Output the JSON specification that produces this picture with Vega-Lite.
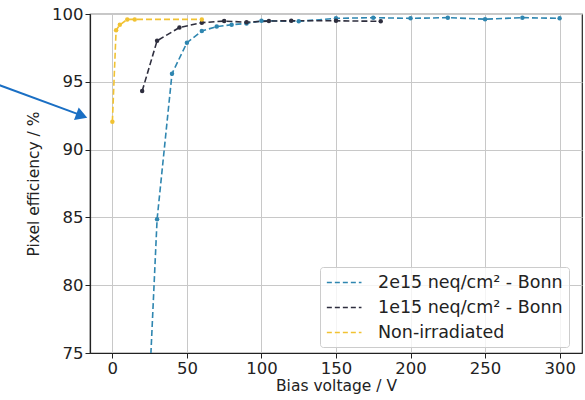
{
  "$schema": "https://vega.github.io/schema/vega-lite/v6.json",
  "width": 492,
  "height": 339,
  "autosize": "none",
  "padding": {"left": 90, "top": 14, "right": 3, "bottom": 47},
  "background": "white",
  "config": {
    "font": "DejaVu Sans",
    "view": {"stroke": "#222", "strokeWidth": 1.2},
    "axis": {
      "domainColor": "#222", "domainWidth": 1.2,
      "tickColor": "#222", "tickSize": 5,
      "gridColor": "#c8c8c8", "gridWidth": 1,
      "labelFontSize": 16.5, "labelColor": "#222",
      "titleFontSize": 15.5, "titleFontWeight": "normal", "titleColor": "#222"
    }
  },
  "datasets": {
    "series": [
      {"series": "2e15 neq/cm² - Bonn", "voltage": 20, "eff": 61},
      {"series": "2e15 neq/cm² - Bonn", "voltage": 30, "eff": 84.86},
      {"series": "2e15 neq/cm² - Bonn", "voltage": 40, "eff": 95.6},
      {"series": "2e15 neq/cm² - Bonn", "voltage": 50, "eff": 97.88},
      {"series": "2e15 neq/cm² - Bonn", "voltage": 60, "eff": 98.75},
      {"series": "2e15 neq/cm² - Bonn", "voltage": 70, "eff": 99.07},
      {"series": "2e15 neq/cm² - Bonn", "voltage": 80, "eff": 99.21},
      {"series": "2e15 neq/cm² - Bonn", "voltage": 90, "eff": 99.3},
      {"series": "2e15 neq/cm² - Bonn", "voltage": 100, "eff": 99.5},
      {"series": "2e15 neq/cm² - Bonn", "voltage": 125, "eff": 99.46},
      {"series": "2e15 neq/cm² - Bonn", "voltage": 150, "eff": 99.68},
      {"series": "2e15 neq/cm² - Bonn", "voltage": 175, "eff": 99.73},
      {"series": "2e15 neq/cm² - Bonn", "voltage": 200, "eff": 99.68},
      {"series": "2e15 neq/cm² - Bonn", "voltage": 225, "eff": 99.73},
      {"series": "2e15 neq/cm² - Bonn", "voltage": 250, "eff": 99.62},
      {"series": "2e15 neq/cm² - Bonn", "voltage": 275, "eff": 99.73},
      {"series": "2e15 neq/cm² - Bonn", "voltage": 300, "eff": 99.68},
      {"series": "1e15 neq/cm² - Bonn", "voltage": 20, "eff": 94.32},
      {"series": "1e15 neq/cm² - Bonn", "voltage": 30, "eff": 98.03},
      {"series": "1e15 neq/cm² - Bonn", "voltage": 45, "eff": 99.0},
      {"series": "1e15 neq/cm² - Bonn", "voltage": 60, "eff": 99.36},
      {"series": "1e15 neq/cm² - Bonn", "voltage": 75, "eff": 99.48},
      {"series": "1e15 neq/cm² - Bonn", "voltage": 90, "eff": 99.39},
      {"series": "1e15 neq/cm² - Bonn", "voltage": 105, "eff": 99.48},
      {"series": "1e15 neq/cm² - Bonn", "voltage": 120, "eff": 99.5},
      {"series": "1e15 neq/cm² - Bonn", "voltage": 150, "eff": 99.5},
      {"series": "1e15 neq/cm² - Bonn", "voltage": 180, "eff": 99.46},
      {"series": "Non-irradiated", "voltage": 0, "eff": 92.06},
      {"series": "Non-irradiated", "voltage": 2.5, "eff": 98.8},
      {"series": "Non-irradiated", "voltage": 5, "eff": 99.2},
      {"series": "Non-irradiated", "voltage": 10, "eff": 99.6},
      {"series": "Non-irradiated", "voltage": 15, "eff": 99.6},
      {"series": "Non-irradiated", "voltage": 60, "eff": 99.6}
    ],
    "arrow": [
      {"part": "shaft", "voltage": -76, "eff": 94.76},
      {"part": "shaft", "voltage": -23, "eff": 92.62}
    ],
    "head": [
      {"voltage": -20.5, "eff": 92.5}
    ]
  },
  "layer": [
    {
      "data": {"name": "series"},
      "mark": {"type": "line", "strokeDash": [6, 3], "strokeWidth": 1.6, "clip": true},
      "encoding": {
        "x": {"field": "voltage", "type": "quantitative",
              "scale": {"domain": [-15, 315], "nice": false, "zero": false},
              "axis": {"values": [0, 50, 100, 150, 200, 250, 300], "title": "Bias voltage / V", "titlePadding": 2}},
        "y": {"field": "eff", "type": "quantitative",
              "scale": {"domain": [75, 100], "nice": false, "zero": false},
              "axis": {"values": [75, 80, 85, 90, 95, 100], "title": "Pixel efficiency / %", "titlePadding": 10}},
        "color": {"field": "series", "type": "nominal",
                  "scale": {"domain": ["2e15 neq/cm² - Bonn", "1e15 neq/cm² - Bonn", "Non-irradiated"],
                            "range": ["#2f86b0", "#2e2e3e", "#f1c232"]},
                  "legend": {
                    "title": null, "orient": "none", "legendX": 230, "legendY": 253,
                    "symbolType": "M-1,0H3", "symbolDash": [5, 3], "symbolStrokeWidth": 1.6, "symbolSize": 300,
                    "labelFontSize": 17.5, "labelColor": "#222", "labelOffset": 33, "labelLimit": 400, "rowPadding": 7,
                    "padding": 6, "strokeColor": "#cccccc", "fillColor": "rgba(255,255,255,0.8)", "cornerRadius": 3
                  }},
        "detail": {"field": "series"}
      }
    },
    {
      "data": {"name": "series"},
      "mark": {"type": "point", "filled": true, "size": 20, "opacity": 1, "clip": true},
      "encoding": {
        "x": {"field": "voltage", "type": "quantitative"},
        "y": {"field": "eff", "type": "quantitative"},
        "color": {"field": "series", "type": "nominal", "legend": null}
      }
    },
    {
      "data": {"name": "arrow"},
      "mark": {"type": "line", "color": "#1a6fc4", "strokeWidth": 2, "clip": false},
      "encoding": {
        "x": {"field": "voltage", "type": "quantitative"},
        "y": {"field": "eff", "type": "quantitative"}
      }
    },
    {
      "data": {"name": "head"},
      "mark": {"type": "point", "shape": "triangle-right", "filled": true, "size": 180, "angle": 20.6, "color": "#1a6fc4", "opacity": 1, "clip": false},
      "encoding": {
        "x": {"field": "voltage", "type": "quantitative"},
        "y": {"field": "eff", "type": "quantitative"}
      }
    }
  ]
}
